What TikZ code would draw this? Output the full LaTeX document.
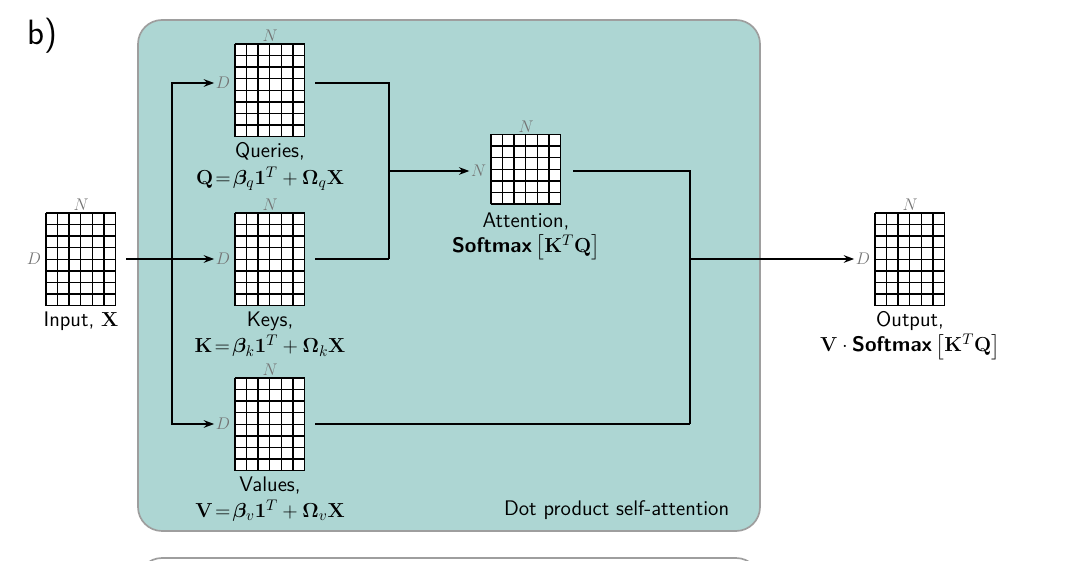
\documentclass[tikz,border=0pt]{standalone}
\usepackage{amsmath,amssymb,bm}
\usepackage{tikz}
\usetikzlibrary{calc,positioning,backgrounds}
\usetikzlibrary{shapes,arrows.meta}

\definecolor{boxfill}{RGB}{173,214,211}
\definecolor{boxline}{RGB}{158,158,158}
\definecolor{dimtext}{RGB}{115,115,115}

\tikzset{
  mat/.style={minimum width=1.74cm,minimum height=2.32cm,inner sep=0},
  sqmat/.style={minimum width=1.74cm,minimum height=1.74cm,inner sep=0},
  gridline/.style={line width=1pt},
  dim/.style={text=dimtext,font=\fontsize{13}{15}\selectfont,inner sep=1pt},
  lab/.style={align=center,font=\fontsize{15}{18}\selectfont\sffamily,inner sep=1pt},
  con/.style={line width=1.2pt},
  arr/.style={con,-{Stealth[length=2.6mm,width=1.9mm]}}
}

% cells of a matrix node: name, columns, rows
\newcommand{\matgrid}[3]{%
  \fill[white] (#1.south west) rectangle (#1.north east);
  \foreach \i in {0,...,#2} \draw[gridline] ($(#1.south west)+(\i*0.29,0)$) -- ++(0,#3*0.29);
  \foreach \j in {0,...,#3} \draw[gridline] ($(#1.south west)+(0,\j*0.29)$) -- ++(#2*0.29,0);}

\begin{document}
\begin{tikzpicture}

\useasboundingbox (0,0) rectangle (27,14);
\clip (0,0) rectangle (27,14);

\coordinate (c1) at (2.025,7.525); %input
\coordinate (c2) at (6.75,11.75); %queries
\coordinate (c3) at (6.75,7.525); %keys
\coordinate (c4) at (6.75,3.4); %values
\coordinate (c5) at (13.15,9.775); %attention
\coordinate (c6) at (22.75,7.525); %output

% panels
\draw [boxline,fill=boxfill,line width=1.2pt,rounded corners=0.6cm] (3.45,0.725) rectangle (19.0,13.5);
\draw [boxline,line width=1.2pt,rounded corners=0.6cm] (3.45,-5) rectangle (19.0,0.05);
\node [font=\fontsize{25}{30}\selectfont\sffamily] (lb) at (1.05,13.1) {b)};
\node [font=\fontsize{25}{30}\selectfont\sffamily] (lc) at (1.05,-0.5) {c)};
\node [lab,anchor=east] (title) at (18.27,1.25) {Dot product self-attention};

% matrices
\node [mat] (in) at (c1) {};
\node [mat] (q) at (c2) {};
\node [mat] (k) at (c3) {};
\node [mat] (v) at (c4) {};
\node [sqmat] (att) at (c5) {};
\node [mat] (out) at (c6) {};
\matgrid{in}{6}{8}
\matgrid{q}{6}{8}
\matgrid{k}{6}{8}
\matgrid{v}{6}{8}
\matgrid{att}{6}{6}
\matgrid{out}{6}{8}

% sizes
\node [dim,above=0pt of in] (inN) {$N$};
\node [dim,above=0pt of q] (qN) {$N$};
\node [dim,above=0pt of k] (kN) {$N$};
\node [dim,above=0pt of v] (vN) {$N$};
\node [dim,above=0pt of att] (aN2) {$N$};
\node [dim,above=0pt of out] (oN) {$N$};
\node [dim,anchor=east] (inD) at ([xshift=-0.08cm]in.west) {$D$};
\node [dim,anchor=east] (qD) at ([xshift=-0.08cm,yshift=0.175cm]q.west) {$D$};
\node [dim,anchor=east] (kD) at ([xshift=-0.08cm]k.west) {$D$};
\node [dim,anchor=east] (vD) at ([xshift=-0.08cm]v.west) {$D$};
\node [dim,anchor=east] (aN) at ([xshift=-0.08cm,yshift=-0.05cm]att.west) {$N$};
\node [dim,anchor=east] (oD) at ([xshift=-0.08cm]out.west) {$D$};

% captions
\node [lab,below=3pt of in] (inL) {Input, $\mathbf{X}$};
\node [lab,below=3pt of q] (qL) {Queries,\\[1pt] $\mathbf{Q}\!=\!\bm{\beta}_q\mathbf{1}^T+\bm{\Omega}_q\mathbf{X}$};
\node [lab,below=3pt of k] (kL) {Keys,\\[1pt] $\mathbf{K}\!=\!\bm{\beta}_k\mathbf{1}^T+\bm{\Omega}_k\mathbf{X}$};
\node [lab,below=3pt of v] (vL) {Values,\\[1pt] $\mathbf{V}\!=\!\bm{\beta}_v\mathbf{1}^T+\bm{\Omega}_v\mathbf{X}$};
\node [lab,below=5pt of att] (aL) {Attention,\\[0pt] \textbf{Softmax}\,$\bigl[\mathbf{K}^T\mathbf{Q}\bigr]$};
\node [lab,below=3pt of out] (oL) {Output,\\[0pt] $\mathbf{V}\cdot{}$\textbf{Softmax}\,$\bigl[\mathbf{K}^T\mathbf{Q}\bigr]$};

% connectors
\coordinate (split) at (4.3,7.525); %branch to q,k,v
\coordinate (jk) at (9.725,7.525); %q and k meet
\coordinate (jv) at (17.25,3.4); %att and v meet

\draw [arr] ($(in.east)+(0.25,0)$) -- (kD.west);
\draw [arr] (split) |- (qD.west);
\draw [arr] (split) |- (vD.west);
\draw [con] ($(q.east|-qD)+(0.25,0)$) -| (jk);
\draw [con] ($(k.east)+(0.25,0)$) -- (jk);
\draw [arr] (jk|-aN) -- (aN.west);
\draw [con] ($(att.east|-aN)+(0.3,0)$) -| (jv);
\draw [con] ($(v.east)+(0.25,0)$) -- (jv);
\draw [arr] (jv|-oD) -- (oD.west);

\end{tikzpicture}
\end{document}
